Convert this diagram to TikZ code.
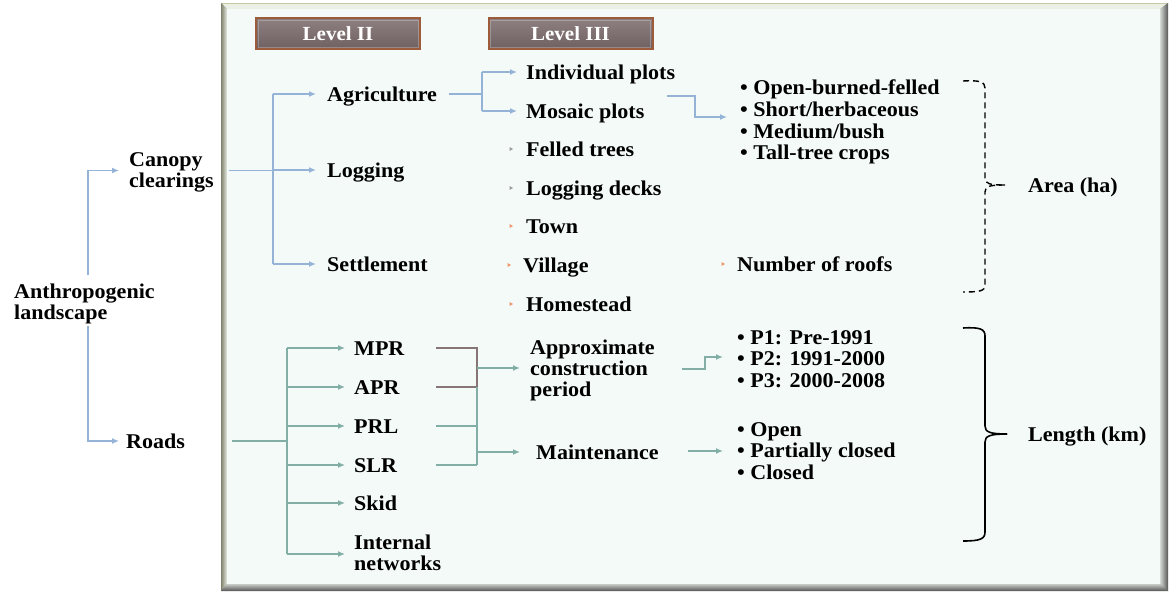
\documentclass[tikz,border=0pt]{standalone}
\usepackage{fontspec}
\setmainfont[FakeStretch=1.05]{Liberation Serif}
\usetikzlibrary{arrows.meta,calc}

\definecolor{panelface}{HTML}{F3FAF8}
\definecolor{blueline}{HTML}{95B3D7}
\definecolor{tealline}{HTML}{82AFA5}
\definecolor{greyline}{HTML}{857576}
\definecolor{boxedge}{HTML}{9C5B3A}
\definecolor{boxtop}{HTML}{8E8080}
\definecolor{boxbot}{HTML}{6F6161}
\definecolor{dotgrey}{HTML}{9A9A9A}
\definecolor{dotorange}{HTML}{F0946A}

\begin{document}
\begin{tikzpicture}[x=1pt,y=-1pt,
  txt/.style={anchor=west,inner sep=0pt,font=\fontsize{21}{21}\selectfont\bfseries,
              text height=15pt,text depth=1pt},
  multi/.style={anchor=west,inner sep=0pt,align=left,font=\fontsize{21}{21}\selectfont\bfseries},
  blist/.style={anchor=west,inner sep=0pt,align=left,font=\fontsize{21}{21.7}\selectfont\bfseries},
  levelbox/.style={draw=boxedge,line width=2pt,top color=boxtop,bottom color=boxbot,
              minimum width=164pt,minimum height=31pt,inner sep=0pt,text=white,
              font=\fontsize{20}{20}\selectfont\bfseries},
  bline/.style={draw=blueline,line width=1.5pt},
  barrow/.style={bline,-{Latex[length=7pt,width=6pt]}},
  tline/.style={draw=tealline,line width=1.5pt},
  tarrow/.style={tline,-{Latex[length=7pt,width=6pt]}},
  gline/.style={draw=greyline,line width=1.5pt},
  dbrace/.style={draw=black,line width=1.4pt,dash pattern=on 6pt off 4pt},
  sbrace/.style={draw=black,line width=1.6pt}
]
\useasboundingbox (0,0) rectangle (1172,592);
\fill[white] (0,0) rectangle (1172,592);

% bevelled panel
\fill[color={rgb,255:red,110;green,112;blue,100}] (221,3) rectangle (1168,591);
\fill[color={rgb,255:red,236;green,240;blue,228}] (221,3) -- (1168,3) -- (1160,9) -- (227,9) -- cycle;
\draw[color={rgb,255:red,196;green,200;blue,164},line width=1.2pt] (221,3.6) -- (1168,3.6);
\shade[left color={rgb,255:red,128;green,130;blue,108},right color={rgb,255:red,232;green,236;blue,226}]
  (221,3) -- (227,9) -- (227,584) -- (221,591) -- cycle;
\shade[left color={rgb,255:red,214;green,218;blue,214},right color={rgb,255:red,86;green,86;blue,86}]
  (1168,3) -- (1160,9) -- (1160,584) -- (1168,591) -- cycle;
\shade[top color={rgb,255:red,200;green,204;blue,200},bottom color={rgb,255:red,84;green,84;blue,84}]
  (221,591) -- (227,584) -- (1160,584) -- (1168,591) -- cycle;
\fill[panelface] (227,9) rectangle (1160,584);

% level headers
\node[levelbox] (lv2) at (338,33.5) {Level II};
\node[levelbox] (lv3) at (570.5,33.5) {Level III};
\draw[white,opacity=0.25,line width=1pt] ([shift={(3pt,-3pt)}]lv2.north west) rectangle ([shift={(-3pt,3pt)}]lv2.south east);
\draw[white,opacity=0.25,line width=1pt] ([shift={(3pt,-3pt)}]lv3.north west) rectangle ([shift={(-3pt,3pt)}]lv3.south east);

% level I
\node[multi] (anth) at (14,303.5) {Anthropogenic\\landscape};
\node[multi] (canopy) at (129,172.5) {Canopy\\clearings};
\node[txt] (roads) at (126,441) {Roads};

% level II, canopy clearings
\node[txt] (agri) at (327,94) {Agriculture};
\node[txt] (logg) at (327,170) {Logging};
\node[txt] (sett) at (327,264) {Settlement};

% level III, canopy clearings
\node[txt] (indiv) at (526,72) {Individual plots};
\node[txt] (mosaic) at (526,111) {Mosaic plots};
\node[txt] (felled) at (526,149) {Felled trees};
\node[txt] (decks) at (526,188) {Logging decks};
\node[txt] (town) at (526,226) {Town};
\node[txt] (village) at (523,265) {Village};
\node[txt] (home) at (526,304) {Homestead};
\node[txt] (roofs) at (737,264) {Number of roofs};
\node[blist] (cover) at (740,122) {\textbullet\ Open-burned-felled\\\textbullet\ Short/herbaceous\\\textbullet\ Medium/bush\\\textbullet\ Tall-tree crops};
\node[txt] (area) at (1028,185) {Area (ha)};

% level II and III, roads
\node[txt] (mpr) at (354,348) {MPR};
\node[txt] (apr) at (354,387) {APR};
\node[txt] (prl) at (354,426) {PRL};
\node[txt] (slr) at (354,465) {SLR};
\node[txt] (skid) at (354,503) {Skid};
\node[multi] (inet) at (354,553) {Internal\\networks};
\node[multi] (approx) at (530,370) {Approximate\\construction\\period};
\node[txt] (maint) at (536,452) {Maintenance};
\node[blist] (periods) at (737,359) {\textbullet\ P1: Pre-1991\\\textbullet\ P2: 1991-2000\\\textbullet\ P3: 2000-2008};
\node[blist] (status) at (737,451) {\textbullet\ Open\\\textbullet\ Partially closed\\\textbullet\ Closed};
\node[txt] (length) at (1028,434) {Length (km)};

% small item markers
\foreach \px/\py/\c in {511/149/dotgrey,511/188/dotgrey,511/226/dotorange,509/265/dotorange,511/304/dotorange,723/264/dotorange}
  \fill[\c] (\px-1.5,\py-2) -- (\px+2,\py) -- (\px-1.5,\py+2) -- cycle;

% branch coordinates
\coordinate (s0) at (88,0);
\coordinate (s1) at (273,0);
\coordinate (s2) at (482,0);
\coordinate (s3) at (287,0);
\coordinate (s4) at (477,0);
\coordinate (e1) at (436,0);
\coordinate (mo) at (667,96);
\coordinate (ap) at (682,369);
\coordinate (ma) at (688,451);

% anthropogenic landscape split
\draw[barrow] ([yshift=8pt]anth.north -| s0) |- ([xshift=-10pt,yshift=2pt]canopy.west);
\draw[barrow] ([yshift=-2pt]anth.south -| s0) |- ([xshift=-7pt]roads.west);

% canopy clearings split
\draw[bline,shorten <=15pt] ([yshift=2pt]canopy.east) -- ([yshift=2pt]canopy.east -| s1);
\draw[bline] (agri.west -| s1) -- (sett.west -| s1);
\draw[barrow] (agri.west -| s1) -- ([xshift=-11pt]agri.west);
\draw[barrow] (logg.west -| s1) -- ([xshift=-11pt]logg.west);
\draw[barrow] (sett.west -| s1) -- ([xshift=-11pt]sett.west);

% agriculture split
\draw[bline,shorten <=12pt] (agri.east) -- (agri.east -| s2);
\draw[bline] (indiv.west -| s2) -- (mosaic.west -| s2);
\draw[barrow] (indiv.west -| s2) -- ([xshift=-9pt]indiv.west);
\draw[barrow] (mosaic.west -| s2) -- ([xshift=-9pt]mosaic.west);

% mosaic plots to cover classes
\draw[barrow] (mo) -- ++(28,0) |- ([xshift=-13pt,yshift=5pt]cover.west);

% roads split
\draw[tline,shorten <=47pt] (roads.east) -- (roads.east -| s3);
\draw[tline] (mpr.west -| s3) -- ([yshift=-1pt]inet.west -| s3);
\foreach \n in {mpr,apr,prl,slr,skid}
  \draw[tarrow] (\n.west -| s3) -- ([xshift=-9pt]\n.west);
\draw[tarrow] ([yshift=-1pt]inet.west -| s3) -- ([xshift=-9pt,yshift=-1pt]inet.west);

% road classes to attributes
\draw[gline] (mpr.west -| e1) -- (mpr.west -| s4) -- (apr.west -| s4);
\draw[gline] (apr.west -| e1) -- (apr.west -| s4);
\draw[tline] (apr.west -| s4) -- (slr.west -| s4);
\draw[tline] (prl.west -| e1) -- (prl.west -| s4);
\draw[tline] (slr.west -| e1) -- (slr.west -| s4);
\draw[tarrow] ([yshift=2pt]approx.west -| s4) -- ([xshift=-10pt,yshift=2pt]approx.west);
\draw[tarrow] (maint.west -| s4) -- ([xshift=-16pt]maint.west);

% attributes to values
\draw[tarrow] (ap) -- ++(23,0) |- ([xshift=-14pt,yshift=2pt]periods.west);
\draw[tarrow] (ma) -- ([xshift=-14pt]status.west |- ma);

% braces
\draw[dbrace] (963,81) .. controls (980,80) and (985,82) .. (985,88) -- (985,178)
  .. controls (985,184) and (990,185) .. (1005,185);
\draw[dbrace] (1005,185) .. controls (990,185) and (985,186) .. (985,192) -- (985,285)
  .. controls (985,291) and (980,292) .. (963,292);
\draw[sbrace] (963,328) .. controls (980,327) and (985,329) .. (985,336) -- (985,426)
  .. controls (985,432) and (990,434) .. (1007,434);
\draw[sbrace] (1007,434) .. controls (990,434) and (985,436) .. (985,442) -- (985,532)
  .. controls (985,539) and (980,541) .. (963,541);
\end{tikzpicture}
\end{document}
